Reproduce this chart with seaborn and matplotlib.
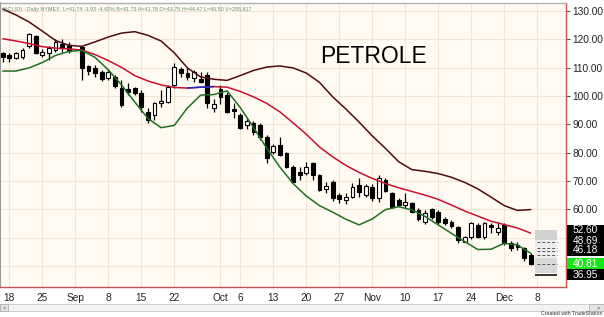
import numpy as np
import pandas as pd
import matplotlib
matplotlib.use("Agg")
import matplotlib.pyplot as plt
import matplotlib.transforms as mtrans
from matplotlib.patches import Rectangle
import seaborn as sns

# ---------------- data ----------------
# daily bars, index 0 = Aug 15 2008 ... index 80 = Dec 5 2008 (index 11 = Sep 1, no bar)
opens = [115.1, 114.5, 113.3, 113.9, 117.6, 121.2, 114.5, 115.1, 116.2, 118.5,
         118.0, np.nan, 117.4, 110.6, 109.8, 108.3, 106.5, 106.8, 102.7, 102.5,
         102.7, 101.2, 94.5, 93.3, 97.4, 98.0, 103.9, 109.4, 108.0, 106.2,
         105.9, 107.5, 95.7, 102.4, 100.3, 95.5, 93.3, 89.8, 90.4, 89.8,
         85.6, 80.3, 82.7, 79.8, 75.0, 73.3, 72.9, 76.5, 72.1, 67.1,
         69.7, 65.1, 63.3, 64.5, 68.6, 65.1, 67.8, 63.9, 70.3, 65.6,
         63.3, 61.5, 62.3, 59.8, 55.6, 60.0, 59.2, 56.5, 55.6, 53.6,
         48.6, 50.3, 54.5, 50.1, 54.5, 52.0, 54.5, 48.0, 47.4, 46.2,
         43.75]
highs = [115.4, 115.1, 115.6, 117.0, 122.3, 121.5, 116.5, 117.5, 120.0, 120.2,
         119.2, np.nan, 117.6, 110.9, 110.9, 109.2, 109.5, 107.4, 105.6, 104.5,
         103.3, 102.1, 95.7, 98.0, 102.1, 103.9, 111.5, 110.3, 110.0, 109.2,
         108.6, 108.3, 99.0, 103.9, 101.5, 97.4, 94.0, 92.1, 91.0, 90.5,
         86.2, 83.0, 85.6, 80.3, 75.5, 75.0, 76.8, 76.8, 72.6, 69.8,
         70.3, 65.9, 65.6, 69.2, 70.9, 68.9, 68.9, 72.1, 71.0, 66.2,
         63.9, 65.6, 62.7, 60.4, 59.8, 60.4, 59.6, 57.4, 56.3, 54.0,
         50.6, 55.5, 55.0, 55.5, 55.0, 55.6, 55.1, 48.9, 48.3, 46.8,
         44.47]
lows = [112.1, 112.1, 113.0, 113.0, 116.8, 114.7, 113.9, 112.7, 115.6, 115.6,
        115.1, np.nan, 105.6, 107.4, 106.8, 105.3, 105.5, 102.7, 96.2, 100.3,
        100.3, 94.5, 90.6, 91.5, 96.2, 97.4, 102.7, 106.6, 105.6, 105.0,
        104.5, 95.9, 94.3, 97.0, 94.0, 92.1, 88.5, 88.2, 86.2, 84.5,
        76.5, 79.6, 78.8, 74.5, 69.3, 70.3, 72.1, 70.3, 66.3, 65.9,
        63.0, 62.2, 61.9, 64.0, 64.2, 64.5, 63.1, 62.5, 66.2, 60.3,
        61.0, 60.4, 58.6, 55.9, 54.8, 56.4, 54.9, 54.4, 53.5, 48.1,
        48.3, 49.6, 49.9, 49.6, 51.5, 50.9, 47.4, 45.4, 45.8, 41.6,
        40.50]
closes = [113.7, 113.3, 115.1, 116.2, 121.9, 115.1, 115.6, 116.8, 119.2, 116.9,
          115.8, np.nan, 109.8, 108.9, 108.2, 106.0, 108.3, 103.5, 96.8, 101.5,
          101.0, 96.2, 91.5, 97.4, 98.3, 103.3, 110.3, 108.0, 106.6, 108.6,
          105.0, 97.4, 97.2, 99.5, 94.5, 94.8, 88.6, 91.0, 87.4, 85.6,
          78.0, 82.3, 79.2, 75.0, 69.7, 72.1, 75.0, 72.1, 66.8, 68.2,
          64.0, 63.5, 64.3, 68.0, 66.2, 68.2, 64.0, 70.9, 66.5, 60.9,
          61.5, 62.7, 59.2, 56.5, 58.6, 57.4, 55.6, 55.1, 54.1, 49.2,
          50.3, 55.1, 50.3, 55.1, 53.7, 53.5, 48.0, 46.2, 46.6, 42.7,
          40.81]

# band readings every second bar (index 0, 2, ..., 80)
band_idx = list(range(0, 81, 2))
upper_band = [130.7, 128.6, 126.1, 122.9, 119.6, 117.9, 117.5, 119.1, 120.8, 122.2,
              122.7, 121.4, 119.4, 115.2, 109.9, 106.7, 105.9, 105.5, 107.2, 109.0,
              110.2, 110.6, 109.9, 108.1, 104.8, 99.7, 95.4, 90.8, 85.9, 81.5,
              76.8, 74.0, 73.4, 72.6, 71.3, 69.5, 67.2, 64.3, 61.3, 59.6, 59.9]
middle_band = [120.2, 119.4, 118.5, 117.4, 116.9, 116.6, 116.2, 114.6, 112.5, 110.1,
               107.2, 105.3, 103.9, 103.0, 102.8, 103.1, 103.3, 103.1, 101.6, 99.7,
               97.4, 94.4, 90.5, 86.5, 82.0, 78.5, 75.5, 73.0, 70.9, 69.1,
               67.6, 66.3, 65.0, 63.5, 61.5, 59.4, 57.6, 55.8, 54.6, 53.4, 51.6]
lower_band = [108.8, 108.8, 109.9, 111.8, 114.3, 115.7, 116.1, 113.6, 109.2, 103.9,
              97.9, 92.1, 88.8, 89.6, 95.8, 100.3, 100.5, 101.8, 95.9, 88.9,
              81.6, 74.9, 69.1, 64.7, 61.3, 59.0, 56.5, 54.5, 56.6, 59.9,
              60.9, 59.8, 57.5, 54.5, 51.5, 48.6, 45.8, 45.9, 48.0, 47.4, 44.5]

tick_pos = [1, 6, 11, 16, 21, 26, 33, 36, 41, 46, 51, 56, 61, 66, 71, 76, 81]
tick_labels = ["18", "25", "Sep", "8", "15", "22", "Oct", "6", "13", "20", "27",
               "Nov", "10", "17", "24", "Dec", "8"]
price_ticks = [40, 50, 60, 70, 80, 90, 100, 110, 120, 130]

level_values = [52.60, 46.18, 48.69, 40.81, 36.95]
level_labels = ["52.60", "46.18", "48.69", "40.81", "36.95"]
level_colors = ["black", "black", "black", "#19e619", "black"]

header = ("@CL(D) - Daily NYMEX  L=41.74 -1.93 -4.42% B=41.73 A=41.78 "
          "O=43.75 H=44.47 L=40.50 V=295,817")
title_text = "PETROLE"

# ---------------- style ----------------
sns.set_theme(style="white")
plt.rcParams["font.family"] = ["Liberation Sans", "DejaVu Sans"]

BG = "#FFFBF2"
GRID = "#EFE6D4"
AXRED = "#CC5050"

fig = plt.figure(figsize=(6.04, 3.17), dpi=100)
fig.patch.set_facecolor("white")
ax = fig.add_axes([0.0, 0.0946, 0.937, 0.896])
ax.set_facecolor(BG)

# ---------------- candles ----------------
o = np.array(opens, float)
h = np.array(highs, float)
l = np.array(lows, float)
c = np.array(closes, float)
idx = np.arange(len(o))
valid = ~np.isnan(o)
up = valid & (c >= o)
dn = valid & (c < o)

ax.vlines(idx[valid], l[valid], h[valid], color="black", lw=0.9, zorder=3)
ax.bar(idx[up], c[up] - o[up], bottom=o[up], width=0.58, color="white",
       edgecolor="black", linewidth=0.8, zorder=4)
ax.bar(idx[dn], o[dn] - c[dn], bottom=c[dn], width=0.58, color="black",
       edgecolor="black", linewidth=0.8, zorder=4)

# ---------------- bands ----------------
bands = pd.DataFrame({"i": band_idx, "upper": upper_band,
                      "middle": middle_band, "lower": lower_band})
sns.lineplot(data=bands, x="i", y="upper", ax=ax, color="#4E0A12", lw=1.1,
             estimator=None, sort=False, legend=False, zorder=5)
sns.lineplot(data=bands, x="i", y="middle", ax=ax, color="#C8102E", lw=1.1,
             estimator=None, sort=False, legend=False, zorder=5)
blue = bands[(bands["i"] >= 28) & (bands["i"] <= 32)]
sns.lineplot(data=blue, x="i", y="middle", ax=ax, color="#1C2BD0", lw=1.1,
             estimator=None, sort=False, legend=False, zorder=6)
sns.lineplot(data=bands, x="i", y="lower", ax=ax, color="#1F6E22", lw=1.1,
             estimator=None, sort=False, legend=False, zorder=5)

# ---------------- axes ----------------
ax.set_xlim(-0.41, 85.35)
ax.set_ylim(32.57, 132.82)
ax.set_xlabel("")
ax.set_ylabel("")

ax.set_xticks(tick_pos)
ax.set_xticklabels(tick_labels, fontsize=7.3, color="#222222")
ax.yaxis.tick_right()
ax.set_yticks(price_ticks)
ax.set_yticklabels(["%.2f" % v if v >= 60 else "" for v in price_ticks],
                   fontsize=7.3, color="#222222")
ax.tick_params(axis="x", direction="out", length=3, width=0.8, color="#555555", pad=1.5)
ax.tick_params(axis="y", direction="out", length=3, width=0.8, color="#555555", pad=1.5)

ax.grid(True, color=GRID, lw=0.8, zorder=0)
ax.set_axisbelow(True)

for s in ["right", "bottom"]:
    ax.spines[s].set_color(AXRED)
    ax.spines[s].set_linewidth(1.0)
ax.spines["left"].set_color("#9A9A9A")
ax.spines["left"].set_linewidth(1.5)
ax.spines["top"].set_color("#B0B0B0")
ax.spines["top"].set_linewidth(1.0)

# ---------------- level zone near the right edge ----------------
ax.add_patch(Rectangle((80.6, 49.2), 3.4, 3.5, fc="#D2D2D2", ec="none", zorder=2))
ax.add_patch(Rectangle((80.6, 42.9), 3.4, 6.3, fc="#EDEDED", ec="none", zorder=2))
ax.add_patch(Rectangle((80.6, 37.6), 3.4, 5.3, fc="#D8D8D8", ec="none", zorder=2))
for v in [48.6, 46.5, 45.3, 43.9, 40.7]:
    ax.hlines(v, 80.9, 84.0, colors="#555555", lw=0.7, linestyles=(0, (3, 2)), zorder=3)
ax.hlines(36.95, 80.6, 84.0, colors="black", lw=1.1, zorder=3)

# price boxes on the right axis (46.18 sits partly under the 48.69 box)
btrans = mtrans.blended_transform_factory(ax.transAxes, ax.transData)
text_shift = [0.0, -0.7, 0.0, 0.0, 0.0]
for val, lab, col, sh in zip(level_values, level_labels, level_colors, text_shift):
    ax.add_patch(Rectangle((1.0015, val + sh - 2.0), 0.075, 4.0, transform=btrans,
                           fc=col, ec="none", clip_on=False, zorder=10))
    ax.text(1.012, val + sh, lab, transform=btrans, fontsize=7.3, color="white",
            va="center", ha="left", clip_on=False, zorder=11)

# ---------------- texts ----------------
ax.text(0.004, 0.985, header, transform=ax.transAxes, fontsize=3.9,
        color="#6C926C", va="top", ha="left", zorder=12)
ax.text(0.565, 0.81, title_text, transform=ax.transAxes, fontsize=16.5,
        color="black", va="center", ha="left", zorder=12)

# scrollbar strip and credit
fig.patches.append(Rectangle((0.0, 0.018), 1.0, 0.022, transform=fig.transFigure,
                             fc="#F3F3F3", ec="#C8C8C8", lw=0.6))
fig.patches.append(Rectangle((0.0, 0.018), 0.014, 0.022, transform=fig.transFigure,
                             fc="#E4E4E4", ec="#B0B0B0", lw=0.6))
fig.patches.append(Rectangle((0.975, 0.018), 0.025, 0.022, transform=fig.transFigure,
                             fc="#E4E4E4", ec="#B0B0B0", lw=0.6))
fig.text(0.007, 0.029, "<", fontsize=4.2, color="#404040", ha="center", va="center")
fig.text(0.990, 0.029, ">", fontsize=4.2, color="#404040", ha="center", va="center")
fig.text(0.998, 0.002, "Created with TradeStation", fontsize=3.8, color="#333333",
         ha="right", va="bottom")

fig.savefig("out.png", dpi=100, facecolor="white")
